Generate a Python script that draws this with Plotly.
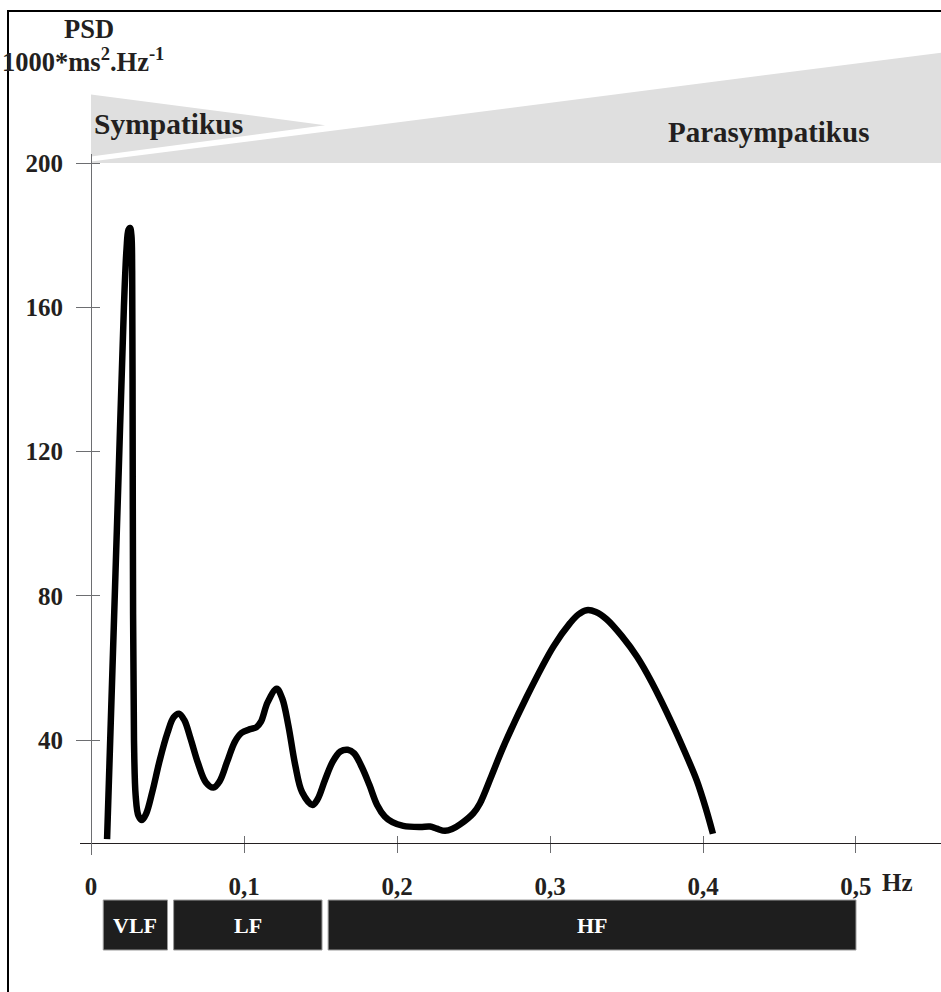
import plotly.graph_objects as go

# ---- data ----
freq = [0.0105, 0.0140, 0.0180, 0.0215, 0.0232, 0.0245, 0.0255, 0.0264, 0.0269, 0.0272,
        0.0275, 0.0281, 0.0292, 0.0310, 0.0333, 0.0360, 0.0400, 0.0450, 0.0500, 0.0540,
        0.0575, 0.0610, 0.0650, 0.0700, 0.0750, 0.0800, 0.0840, 0.0890, 0.0940, 0.0985,
        0.1040, 0.1080, 0.1110, 0.1155, 0.1214, 0.1250, 0.1290, 0.1335, 0.1380, 0.1447,
        0.1480, 0.1530, 0.1580, 0.1630, 0.1678, 0.1720, 0.1770, 0.1820, 0.1870, 0.1920,
        0.1970, 0.2041, 0.2150, 0.2216, 0.2260, 0.2314, 0.2360, 0.2412, 0.2499, 0.2542,
        0.2620, 0.2695, 0.2848, 0.3022, 0.3131, 0.3185, 0.3240, 0.3300, 0.3370, 0.3470,
        0.3570, 0.3665, 0.3804, 0.3880, 0.3959, 0.4020, 0.4065]
psd = [12.5, 59.4, 113.0, 160.0, 176.0, 181.5, 182.0, 180.0, 170.0, 130.0,
       75.0, 40.0, 24.5, 19.0, 17.8, 19.5, 25.5, 34.5, 42.0, 46.3,
       47.3, 45.5, 40.5, 33.5, 28.3, 26.8, 28.5, 34.0, 39.5, 42.0,
       43.0, 43.5, 45.0, 50.5, 54.2, 51.5, 44.0, 33.0, 25.5, 22.0,
       23.5, 29.0, 34.0, 36.8, 37.3, 36.3, 32.5, 27.5, 22.0, 18.8,
       17.2, 16.2, 15.9, 16.0, 15.4, 14.8, 15.3, 16.6, 19.7, 22.4,
       30.3, 38.1, 52.0, 65.9, 72.4, 74.8, 76.0, 75.5, 73.5, 68.8,
       63.0, 56.0, 44.0, 36.8, 28.8, 20.8, 14.0]

y_tickvals = [40, 80, 120, 160, 200]
x_tickvals = [0, 0.1, 0.2, 0.3, 0.4, 0.5]
x_ticktext = ["0", "0,1", "0,2", "0,3", "0,4", "0,5"]

band_names = ["VLF", "LF", "HF"]
band_start = [0.008, 0.054, 0.155]
band_end = [0.050, 0.151, 0.500]

symp_x = [0, 0.153, 0]
symp_y = [219.0, 210.5, 201.8]
para_x = [0, 0.5556, 0.5556, 0]
para_y = [200.4, 230.6, 200.0, 200.0]

# ---- layout geometry ----
W, H = 941, 992
ML, MR, MT, MB = 80, 0, 154, 137
PW, PH = W - ML - MR, H - MT - MB
X0, X1 = -0.00719, 0.55556
Y0, Y1 = 8.11, 202.5

def px_x(px):
    return (px - ML) / PW

def px_y(py):
    return (H - MB - py) / PH

def dy_paper(v):
    return (v - Y0) / (Y1 - Y0)

SERIF = "Liberation Serif, Times New Roman, serif"
TXT = "#231f20"

fig = go.Figure()
fig.add_trace(go.Scatter(x=freq, y=psd, mode="lines",
                         line=dict(color="black", width=6.5, shape="spline", smoothing=1.0),
                         hoverinfo="skip", showlegend=False))
# helper trace so the overlay axes (inner tick halves) are drawn
fig.add_trace(go.Scatter(x=freq, y=psd, mode="lines", line=dict(width=0), xaxis="x2", yaxis="y2",
                         hoverinfo="skip", showlegend=False, opacity=0))

axis_x_common = dict(range=[X0, X1], tickvals=x_tickvals, showgrid=False, zeroline=False,
                     anchor="free", position=px_y(843))
axis_y_common = dict(range=[Y0, Y1], tickvals=y_tickvals, showgrid=False, zeroline=False,
                     anchor="free", position=px_x(91))

fig.update_layout(
    width=W, height=H,
    margin=dict(l=ML, r=MR, t=MT, b=MB, pad=0),
    paper_bgcolor="white", plot_bgcolor="white",
    xaxis=dict(**axis_x_common, ticktext=x_ticktext, ticks="outside", ticklen=9, tickwidth=1,
               tickcolor="#6d6e71", showline=True, linecolor=TXT, linewidth=1,
               tickfont=dict(family=SERIF, size=25, color=TXT, weight="bold"), ticklabelstandoff=12),
    yaxis=dict(**axis_y_common, ticks="outside", ticklen=15, tickwidth=1, tickcolor="#6d6e71",
               showline=True, linecolor="#6d6e71", linewidth=1,
               tickfont=dict(family=SERIF, size=25, color=TXT, weight="bold"), ticklabelstandoff=8),
    xaxis2=dict(**axis_x_common, overlaying="x", ticks="inside", ticklen=7, tickwidth=1,
                tickcolor="#6d6e71", showline=False, showticklabels=False),
    yaxis2=dict(**axis_y_common, overlaying="y", ticks="inside", ticklen=8, tickwidth=1,
                tickcolor="#6d6e71", showline=False, showticklabels=False),
    showlegend=False,
)

shapes = []
# outer frame
shapes.append(dict(type="rect", xref="paper", yref="paper", x0=px_x(8), x1=px_x(960),
                   y0=px_y(1010), y1=px_y(11), line=dict(color="black", width=2),
                   fillcolor="rgba(0,0,0,0)"))

def path_from(xs, ys):
    pts = [f"{x},{dy_paper(y)}" for x, y in zip(xs, ys)]
    return "M " + " L ".join(pts) + " Z"

for xs, ys in [(symp_x, symp_y), (para_x, para_y)]:
    shapes.append(dict(type="path", xref="x", yref="paper", path=path_from(xs, ys),
                       fillcolor="#dfdfdf", line=dict(width=0), layer="below"))

annotations = []
for name, s, e in zip(band_names, band_start, band_end):
    shapes.append(dict(type="rect", xref="x", yref="paper", x0=s, x1=e, y0=px_y(950), y1=px_y(900),
                       fillcolor="#1e1e1e", line=dict(color="#9a9a9a", width=1)))
    annotations.append(dict(x=(s + e) / 2, y=px_y(925), xref="x", yref="paper", text=name,
                            showarrow=False,
                            font=dict(family=SERIF, size=22, color="white", weight="bold"),
                            xanchor="center", yanchor="middle"))

annotations += [
    dict(x=px_x(89), y=px_y(29), xref="paper", yref="paper", text="PSD", showarrow=False,
         font=dict(family=SERIF, size=26.5, color=TXT, weight="bold"),
         xanchor="center", yanchor="middle"),
    dict(x=px_x(0), y=px_y(60), xref="paper", yref="paper",
         text="1000*ms<sup>2</sup>.Hz<sup>-1</sup>",
         showarrow=False, font=dict(family=SERIF, size=26.5, color=TXT, weight="bold"),
         xanchor="left", yanchor="middle"),
    dict(x=px_x(92), y=px_y(124), xref="paper", yref="paper", text="Sympatikus", showarrow=False,
         font=dict(family=SERIF, size=29.5, color=TXT, weight="bold"),
         xanchor="left", yanchor="middle"),
    dict(x=px_x(666), y=px_y(132), xref="paper", yref="paper", text="Parasympatikus",
         showarrow=False, font=dict(family=SERIF, size=29, color=TXT, weight="bold"),
         xanchor="left", yanchor="middle"),
    dict(x=px_x(880), y=px_y(883), xref="paper", yref="paper", text="Hz", showarrow=False,
         font=dict(family=SERIF, size=25, color=TXT, weight="bold"),
         xanchor="left", yanchor="middle"),
]

fig.update_layout(shapes=shapes, annotations=annotations)
fig.write_html("out.html")
